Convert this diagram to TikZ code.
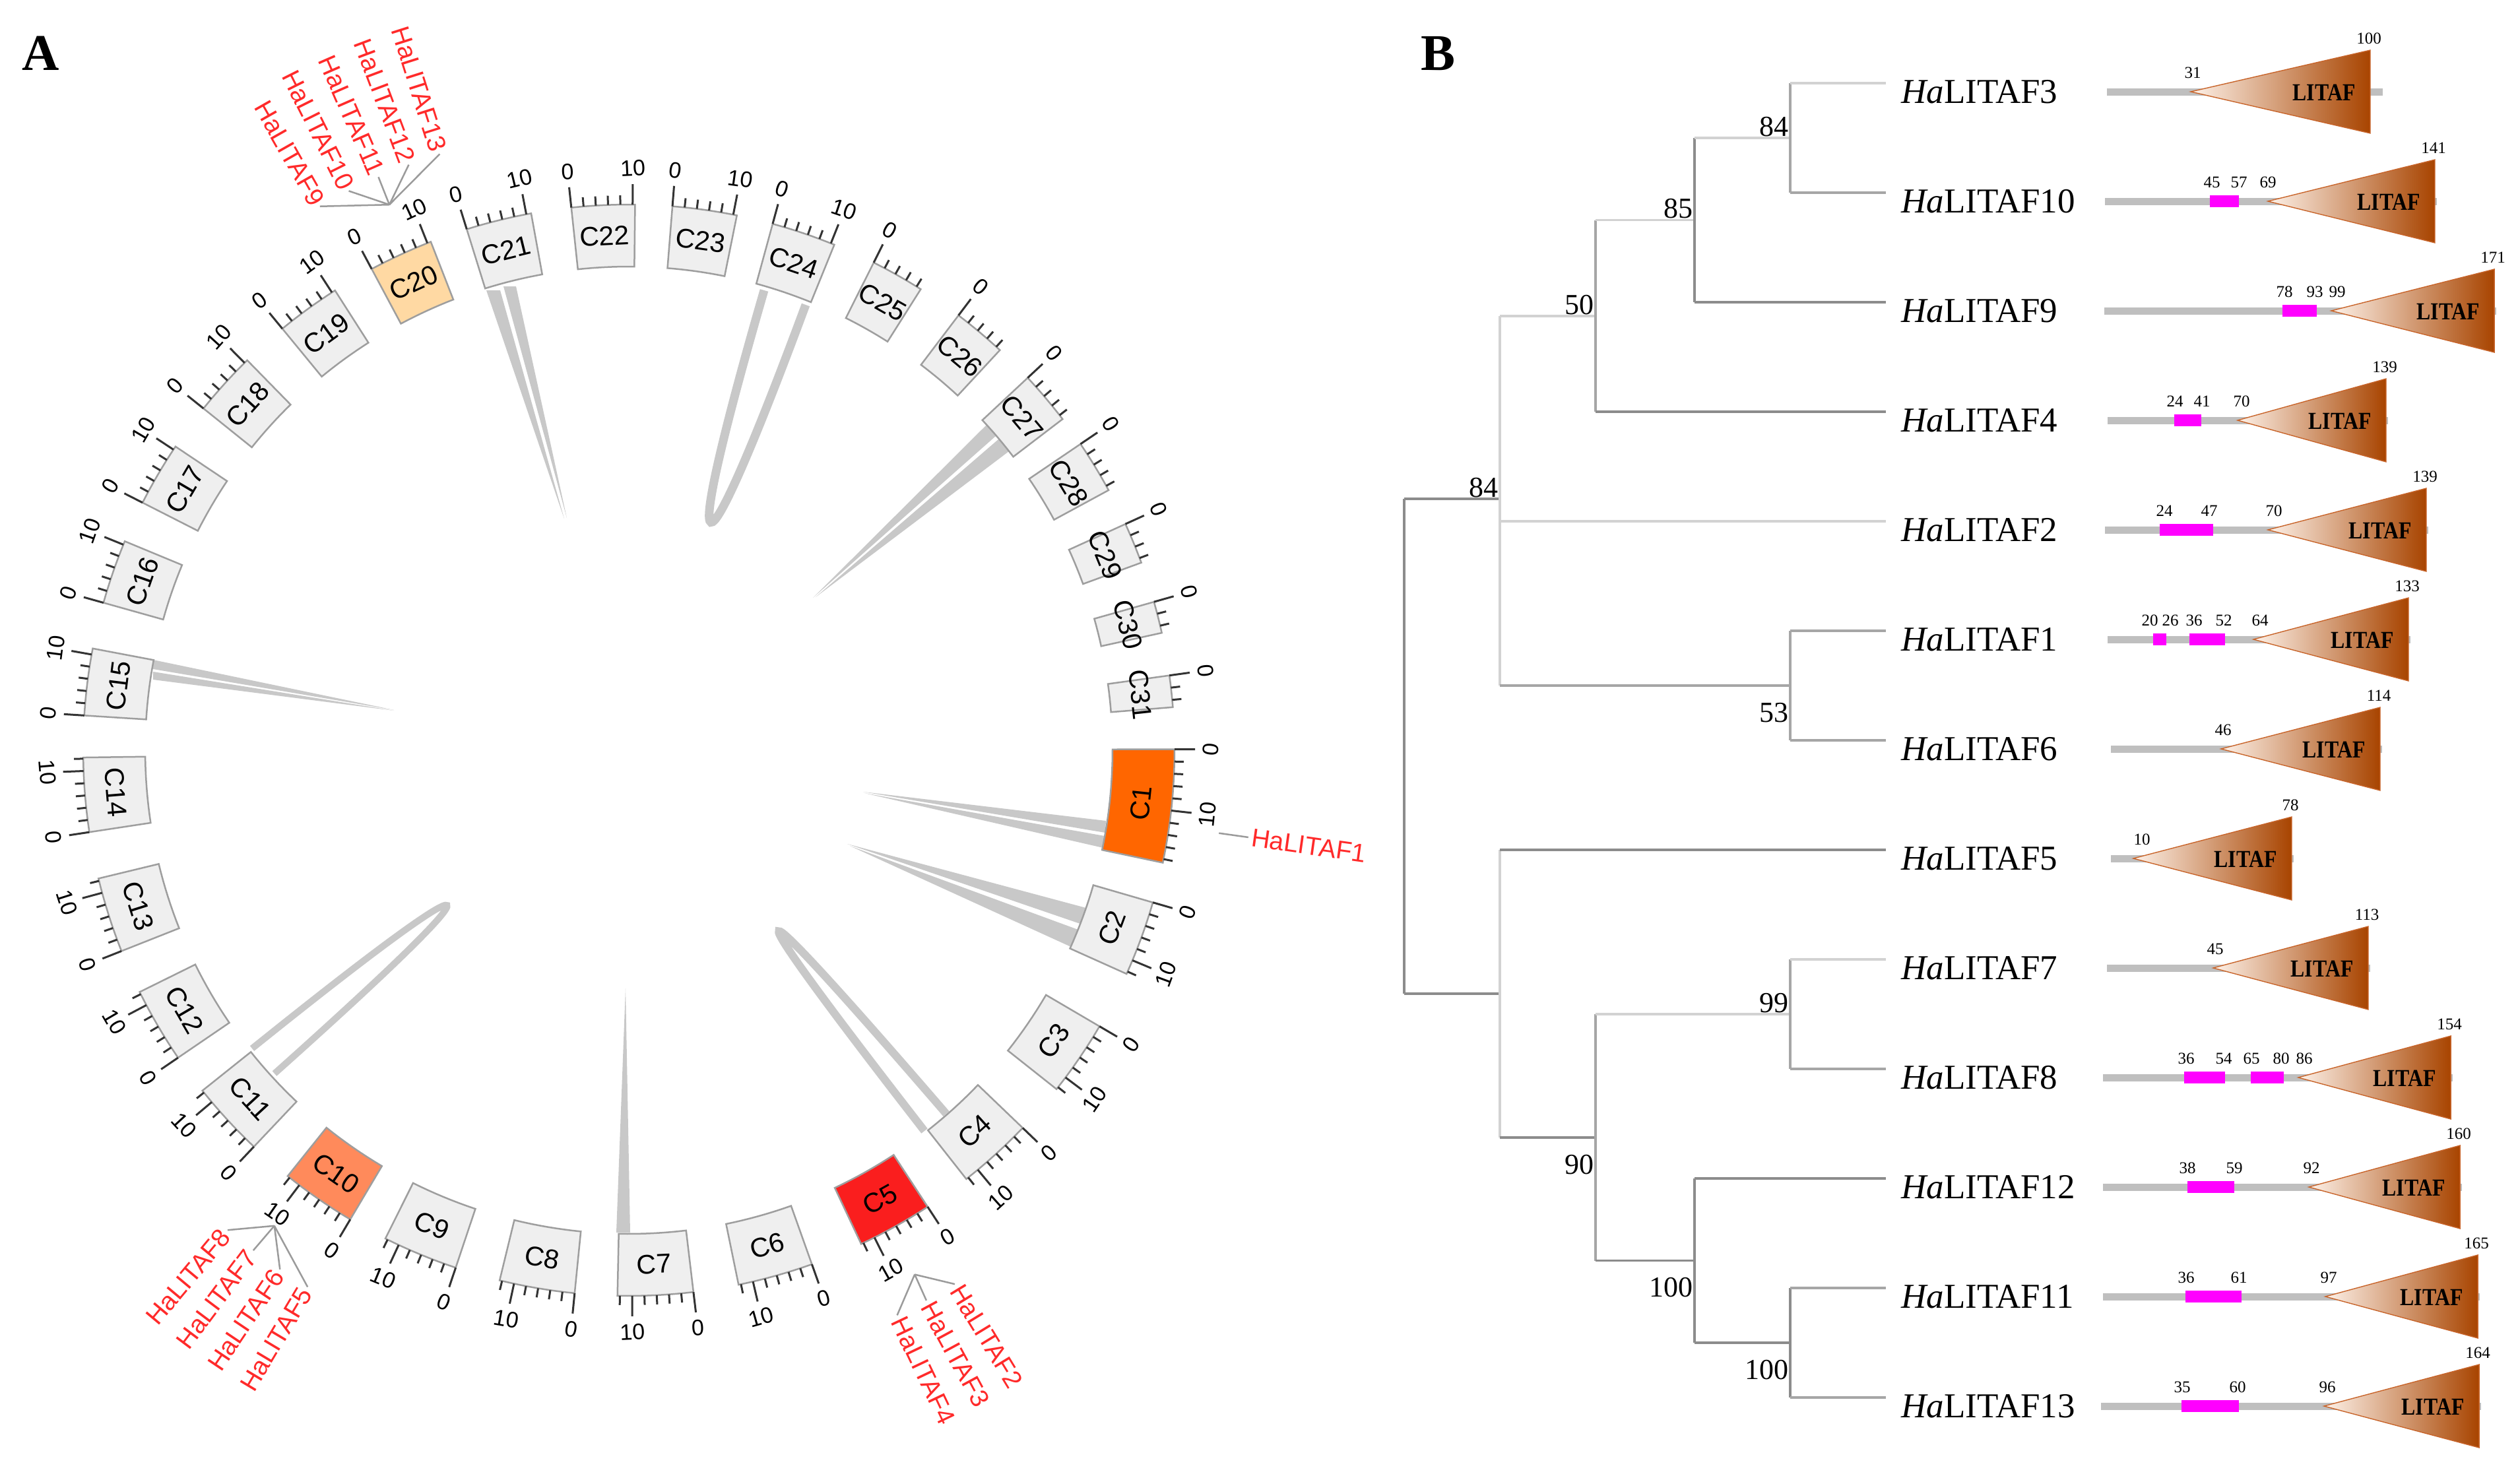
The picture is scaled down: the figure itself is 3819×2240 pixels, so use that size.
\documentclass[tikz,border=0pt]{standalone}
\usepackage{fontspec}
\setmainfont{Liberation Serif}
\newfontfamily\sansf{Liberation Sans}
\definecolor{boxg}{HTML}{EFEFEF}
\definecolor{boxe}{HTML}{9E9E9E}
\definecolor{cOne}{HTML}{FF6600}
\definecolor{cFive}{HTML}{FA1E1E}
\definecolor{cTen}{HTML}{FF8A5B}
\definecolor{cTwenty}{HTML}{FFD9A3}
\definecolor{linkc}{HTML}{C8C8C8}
\definecolor{genered}{HTML}{FF2A2A}
\definecolor{fang}{HTML}{9B9B9B}
\definecolor{tdark}{HTML}{8C8C8C}
\definecolor{tmed}{HTML}{A6A6A6}
\definecolor{tlight}{HTML}{D2D2D2}
\definecolor{dline}{HTML}{BFBFBF}
\definecolor{pinkc}{HTML}{FF00FF}
\definecolor{triL}{HTML}{FDF1E8}
\definecolor{triR}{HTML}{A84400}
\definecolor{triE}{HTML}{C8642A}
\newcommand\domrow[6]{%
  \fill[dline] (#2,{#1-5.5}) rectangle (#5,{#1+5.5});
  \path[draw=triE,line width=1.4,left color=triL,right color=triR] (#3,#1) -- (#4,{#1-63}) -- (#4,{#1+63}) -- cycle;
  \node[litaf] at ({#4-70},{#1+1}) {\scalebox{0.86}[1]{LITAF}};
  \node[dnumst] at ({#4-2},{#1-81}) {#6};
}
\newcommand\dnum[3]{\node[dnumst] at (#1,{#2-29}) {#3};}
\newcommand\pinkb[3]{\fill[pinkc] (#1,{#3-9}) rectangle (#2,{#3+9});}
\begin{document}
\begin{tikzpicture}[x=1pt,y=-1pt,
  tickst/.style={line width=3,draw=black!80},
  ticklab/.style={font=\sansf\fontsize{34}{36}\selectfont,inner sep=0},
  boxlab/.style={font=\sansf\fontsize{41}{44}\selectfont,inner sep=0},
  genel/.style={font=\sansf\fontsize{39}{42}\selectfont,text=genered,inner sep=0},
  fanl/.style={draw=fang,line width=2.5},
  br/.style={line width=3.5},
  leafl/.style={font=\fontsize{53}{56}\selectfont,anchor=west,inner sep=0},
  boot/.style={font=\fontsize{44}{46}\selectfont,inner sep=2},
  dnumst/.style={font=\fontsize{25}{27}\selectfont,inner sep=0},
  litaf/.style={font=\bfseries\fontsize{37}{39}\selectfont,inner sep=0},
  panel/.style={font=\bfseries\fontsize{78}{80}\selectfont,inner sep=0}]
\useasboundingbox (0,0) rectangle (3819,2240);
\fill[white] (0,0) rectangle (3819,2240);
\node[panel] (pA) at (62,81) {A};
\node[panel] (pB) at (2179,81) {B};
% ---------- links ----------
\fill[linkc] (737,440) -- (758,440) -- (855,786) -- cycle;
\fill[linkc] (763,434) -- (782,434) -- (859,785) -- cycle;
\draw[linkc,line width=13] (1158,440) .. controls (1025,900) and (1055,910) .. (1221,462);
\fill[linkc] (1495,644) -- (1510,660) -- (1232,906) -- cycle;
\fill[linkc] (1514,665) -- (1529,684) -- (1236,905) -- cycle;
\fill[linkc] (232,1000) -- (232,1014) -- (597,1076) -- cycle;
\fill[linkc] (232,1018) -- (232,1030) -- (597,1077) -- cycle;
\draw[linkc,line width=10] (382,1589) .. controls (760,1285) and (780,1302) .. (416,1627);
\fill[linkc] (934,1868) -- (955,1868) -- (948,1498) -- cycle;
\draw[linkc,line width=12] (1401,1714) .. controls (1095,1320) and (1108,1310) .. (1434,1688);
\fill[linkc] (1646,1376) -- (1637,1400) -- (1284,1279) -- cycle;
\fill[linkc] (1634,1409) -- (1623,1435) -- (1288,1282) -- cycle;
\fill[linkc] (1676,1244) -- (1675,1262) -- (1308,1200) -- cycle;
\fill[linkc] (1674,1267) -- (1672,1285) -- (1310,1202) -- cycle;
% ---------- chromosomes ----------
\begin{scope}[shift={(953,1137)},y=1pt]
\foreach \n/\tc/\len/\fc/\tm in {1/-5.9/18.6/cOne/18,2/-20.2/12.4/boxg/12,3/-34.4/12.4/boxg/12,
  4/-47.8/12.4/boxg/12,5/-60.8/12.4/cFive/12,6/-74.4/12.4/boxg/12,7/-87.2/12.4/boxg/12,
  8/-99.7/12.4/boxg/12,9/-112.5/12.4/boxg/12,10/-124.7/12.4/cTen/12,11/-137.4/12.4/boxg/12,
  12/-149.7/12.4/boxg/12,13/-162.4/12.4/boxg/12,14/-175.3/12.2/boxg/12,15/172.8/11/boxg/10,
  16/160.9/10.6/boxg/10,17/149.6/10.6/boxg/10,18/137.8/10.6/boxg/10,19/126.0/10.6/boxg/10,
  20/114.7/10.6/cTwenty/10,21/103.8/10.8/boxg/10,22/92.7/10.4/boxg/10,23/82.0/10.6/boxg/10,
  24/71.3/10.6/boxg/10,25/60.5/8.8/boxg/8,26/50.0/8.8/boxg/8,27/40.2/8.8/boxg/8,
  28/31.3/8.8/boxg/8,29/22.3/6.8/boxg/6,30/14.1/5.2/boxg/4,31/6.2/5.2/boxg/4}{
  \pgfmathsetmacro\ts{\tc+\len*0.3225}
  \pgfmathsetmacro\te{\tc-\len*0.3225}
  \pgfmathsetmacro\rot{\tc>0 ? \tc-90 : \tc+90}
  \filldraw[fill=\fc,draw=boxe,line width=2.5] plot[variable=\q,domain=\ts:\te,samples=9] (\q:733)
     -- plot[variable=\q,domain=\te:\ts,samples=9] (\q:827) -- cycle;
  \foreach \uu in {0,2,...,\tm}{
    \pgfmathsetmacro\ta{\ts-\uu*0.645}
    \pgfmathsetmacro\tl{(\uu==0 || \uu==10) ? 858 : 841}
    \draw[tickst] (\ta:827) -- (\ta:\tl);
  }
  \node[ticklab,rotate=\rot] (z\n) at (\ts:882) {0};
  \pgfmathtruncatemacro\hasten{\len>=10 ? 1 : 0}
  \ifnum\hasten=1
    \pgfmathsetmacro\tb{\ts-6.45}
    \node[ticklab,rotate=\rot] (t\n) at (\tb:882) {10};
  \fi
  \node[boxlab,rotate=\rot] (c\n) at (\tc:780) {C\n};
}
% gene fans
\coordinate (f1) at (-8:903);
\draw[fanl] (f1) -- (-8:948);
\node[genel,anchor=west,rotate=-8] (g1) at (-8:953) {HaLITAF1};
\coordinate (f5) at (-61.4:905);
\foreach \a/\g in {-58.6/2,-61.6/3,-64.6/4}{
  \draw[fanl] (f5) -- (\a:948);
  \node[genel,anchor=west,rotate=\a] (g\g) at (\a:953) {HaLITAF\g};
}
\coordinate (f10) at (-126.7:899);
\foreach \a/\g in {-129.9/8,-126.9/7,-123.9/6,-120.9/5}{
  \pgfmathsetmacro\rr{\a+180}
  \draw[fanl] (f10) -- (\a:948);
  \node[genel,anchor=east,rotate=\rr] (g\g) at (\a:953) {HaLITAF\g};
}
\coordinate (f20) at (113.7:903);
\foreach \a/\g in {119.6/9,116.6/10,113.6/11,110.6/12,107.6/13}{
  \pgfmathsetmacro\rr{\a+180}
  \draw[fanl] (f20) -- (\a:948);
  \node[genel,anchor=east,rotate=\rr] (g\g) at (\a:953) {HaLITAF\g};
}
\end{scope}
% ---------- tree ----------
\coordinate (L0) at (2858,126);
\coordinate (L1) at (2858,292);
\coordinate (L2) at (2858,458);
\coordinate (L3) at (2858,624);
\coordinate (L4) at (2858,790);
\coordinate (L5) at (2858,956);
\coordinate (L6) at (2858,1122);
\coordinate (L7) at (2858,1288);
\coordinate (L8) at (2858,1454);
\coordinate (L9) at (2858,1620);
\coordinate (L10) at (2858,1786);
\coordinate (L11) at (2858,1952);
\coordinate (L12) at (2858,2118);
\coordinate (n84a) at (2713,209);
\coordinate (n85) at (2568,333.5);
\coordinate (n50) at (2418,478.75);
\coordinate (n53) at (2713,1039);
\coordinate (n84b) at (2273,756);
\coordinate (n99) at (2713,1537);
\coordinate (n100b) at (2713,2035);
\coordinate (n100a) at (2568,1910.5);
\coordinate (n90) at (2418,1723.75);
\coordinate (nX) at (2273,1505.9);
\coordinate (root) at (2128,1130);
\draw[br,tdark] (root |- n84b) -- (root |- nX);
\draw[br,tdark] (root |- n84b) -- (n84b);
\draw[br,tdark] (root |- nX) -- (nX);
\draw[br,tlight] (n84b |- n50) -- (n84b |- n53);
\draw[br,tlight] (n84b |- n50) -- (n50);
\draw[br,tlight] (n84b |- L4) -- (L4);
\draw[br,tmed] (n84b |- n53) -- (n53);
\draw[br,tmed] (n50 |- n85) -- (n50 |- L3);
\draw[br,tlight] (n50 |- n85) -- (n85);
\draw[br,tdark] (n50 |- L3) -- (L3);
\draw[br,tdark] (n85 |- n84a) -- (n85 |- L2);
\draw[br,tlight] (n85 |- n84a) -- (n84a);
\draw[br,tdark] (n85 |- L2) -- (L2);
\draw[br,tmed] (n84a |- L0) -- (n84a |- L1);
\draw[br,tlight] (n84a |- L0) -- (L0);
\draw[br,tmed] (n84a |- L1) -- (L1);
\draw[br,tmed] (n53 |- L5) -- (n53 |- L6);
\draw[br,tmed] (n53 |- L5) -- (L5);
\draw[br,tmed] (n53 |- L6) -- (L6);
\draw[br,tlight] (nX |- L7) -- (nX |- n90);
\draw[br,tdark] (nX |- L7) -- (L7);
\draw[br,tdark] (nX |- n90) -- (n90);
\draw[br,tmed] (n90 |- n99) -- (n90 |- n100a);
\draw[br,tlight] (n90 |- n99) -- (n99);
\draw[br,tdark] (n90 |- n100a) -- (n100a);
\draw[br,tmed] (n99 |- L8) -- (n99 |- L9);
\draw[br,tlight] (n99 |- L8) -- (L8);
\draw[br,tmed] (n99 |- L9) -- (L9);
\draw[br,tdark] (n100a |- L10) -- (n100a |- n100b);
\draw[br,tdark] (n100a |- L10) -- (L10);
\draw[br,tdark] (n100a |- n100b) -- (n100b);
\draw[br,tdark] (n100b |- L11) -- (n100b |- L12);
\draw[br,tmed] (n100b |- L11) -- (L11);
\draw[br,tmed] (n100b |- L12) -- (L12);
% bootstrap values
\node[boot,anchor=south east] (b84a) at (n84a) {84};
\node[boot,anchor=south east] (b85) at (n85) {85};
\node[boot,anchor=south east] (b50) at (n50) {50};
\node[boot,anchor=south east] (b84b) at (n84b) {84};
\node[boot,anchor=south east] (b99) at (n99) {99};
\node[boot,anchor=north east] (b53) at ([yshift=-24pt]n53) {53};
\node[boot,anchor=north east] (b90) at ([yshift=-24pt]n90) {90};
\node[boot,anchor=north east] (b100a) at ([yshift=-24pt]n100a) {100};
\node[boot,anchor=north east] (b100b) at ([yshift=-24pt]n100b) {100};
% leaf labels
\foreach \i/\g in {0/3,1/10,2/9,3/4,4/2,5/1,6/6,7/5,8/7,9/8,10/12,11/11,12/13}{
  \node[leafl] (lab\g) at (2881,{139+166*\i}) {\textit{Ha}LITAF\g};
}
% ---------- domains ----------
\domrow{139}{3193}{3320}{3592}{3611}{100}
\dnum{3323}{139}{31}
\domrow{305}{3190}{3437}{3690}{3693}{141}
\pinkb{3349}{3393}{305}
\dnum{3352}{305}{45}\dnum{3393}{305}{57}\dnum{3437}{305}{69}
\domrow{471}{3189}{3533}{3780}{3783}{171}
\pinkb{3459}{3511}{471}
\dnum{3462}{471}{78}\dnum{3508}{471}{93}\dnum{3542}{471}{99}
\domrow{637}{3194}{3391}{3616}{3619}{139}
\pinkb{3295}{3336}{637}
\dnum{3296}{637}{24}\dnum{3337}{637}{41}\dnum{3397}{637}{70}
\domrow{803}{3190}{3437}{3677}{3680}{139}
\pinkb{3273}{3354}{803}
\dnum{3280}{803}{24}\dnum{3348}{803}{47}\dnum{3446}{803}{70}
\domrow{969}{3194}{3415}{3650}{3653}{133}
\pinkb{3263}{3283}{969}\pinkb{3318}{3372}{969}
\dnum{3258}{969}{20}\dnum{3289}{969}{26}\dnum{3325}{969}{36}\dnum{3370}{969}{52}\dnum{3425}{969}{64}
\domrow{1135}{3199}{3366}{3607}{3610}{114}
\dnum{3369}{1135}{46}
\domrow{1301}{3199}{3233}{3473}{3476}{78}
\dnum{3246}{1301}{10}
\domrow{1467}{3193}{3354}{3589}{3592}{113}
\dnum{3357}{1467}{45}
\domrow{1633}{3187}{3483}{3714}{3717}{154}
\pinkb{3310}{3372}{1633}\pinkb{3411}{3461}{1633}
\dnum{3313}{1633}{36}\dnum{3370}{1633}{54}\dnum{3412}{1633}{65}\dnum{3457}{1633}{80}\dnum{3492}{1633}{86}
\domrow{1799}{3187}{3499}{3728}{3731}{160}
\pinkb{3315}{3386}{1799}
\dnum{3315}{1799}{38}\dnum{3386}{1799}{59}\dnum{3503}{1799}{92}
\domrow{1965}{3187}{3524}{3755}{3758}{165}
\pinkb{3312}{3397}{1965}
\dnum{3313}{1965}{36}\dnum{3393}{1965}{61}\dnum{3529}{1965}{97}
\domrow{2131}{3184}{3522}{3757}{3760}{164}
\pinkb{3306}{3393}{2131}
\dnum{3307}{2131}{35}\dnum{3391}{2131}{60}\dnum{3527}{2131}{96}
\end{tikzpicture}
\end{document}
